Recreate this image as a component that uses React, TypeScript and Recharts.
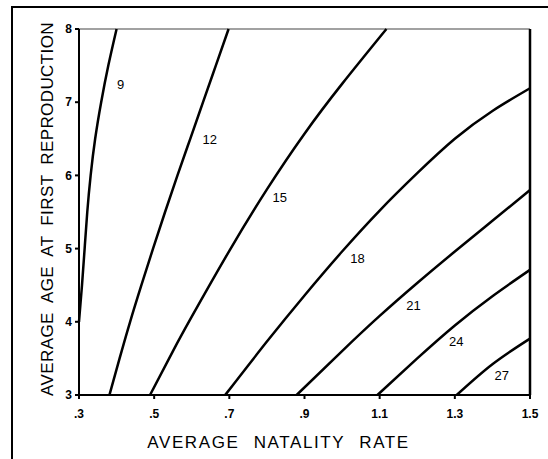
import React from 'react';
import {
  ComposedChart,
  Line,
  XAxis,
  YAxis,
  ReferenceLine,
  ReferenceDot,
} from 'recharts';

// contour lines: [natality rate, age at first reproduction]
const curve9 = [[0.3, 4.0], [0.308, 4.5], [0.315, 5.0], [0.322, 5.5], [0.331, 6.0], [0.343, 6.5], [0.359, 7.0], [0.378, 7.5], [0.4, 8.0]];
const curve12 = [[0.381, 3.0], [0.408, 3.5], [0.436, 4.0], [0.466, 4.5], [0.497, 5.0], [0.529, 5.5], [0.562, 6.0], [0.596, 6.5], [0.63, 7.0], [0.664, 7.5], [0.698, 8.0]];
const curve15 = [[0.489, 3.0], [0.55, 3.6], [0.6, 4.07], [0.7, 4.97], [0.8, 5.81], [0.9, 6.57], [1.0, 7.25], [1.118, 8.0]];
const curve18 = [[0.689, 3.0], [0.8, 3.73], [0.9, 4.36], [1.0, 4.96], [1.1, 5.52], [1.2, 6.03], [1.3, 6.5], [1.4, 6.88], [1.5, 7.19]];
const curve21 = [[0.879, 3.0], [1.0, 3.6], [1.1, 4.08], [1.2, 4.53], [1.3, 4.96], [1.4, 5.38], [1.5, 5.8]];
const curve24 = [[1.094, 3.0], [1.2, 3.5], [1.3, 3.95], [1.4, 4.35], [1.5, 4.71]];
const curve27 = [[1.305, 3.0], [1.4, 3.42], [1.5, 3.77]];

const curves = [curve9, curve12, curve15, curve18, curve21, curve24, curve27];
const levelLabels = ['9', '12', '15', '18', '21', '24', '27'];
const labelX = [0.411, 0.648, 0.834, 1.041, 1.19, 1.304, 1.425];
const labelY = [7.24, 6.49, 5.7, 4.87, 4.23, 3.73, 3.27];

const xTicks = [0.3, 0.5, 0.7, 0.9, 1.1, 1.3, 1.5];
const yTicks = [3, 4, 5, 6, 7, 8];

const font = '"Liberation Sans", Arial, sans-serif';

const fmtX = (v: number) => (v < 1 ? v.toFixed(1).slice(1) : v.toFixed(1));

const App = () => (
  <div style={{ position: 'absolute', left: 0, top: 0, width: 548, height: 459, background: '#fff' }}>
    <div
      style={{
        position: 'absolute',
        left: 11,
        top: 6,
        width: 537,
        height: 453,
        borderTop: '2px solid #000',
        borderLeft: '2px solid #000',
        boxSizing: 'border-box',
      }}
    />
    <div style={{ position: 'absolute', left: 0, top: 0 }}>
      <ComposedChart width={548} height={459} margin={{ top: 29, right: 18, left: 0, bottom: 0 }}>
        <XAxis
          type="number"
          dataKey="x"
          domain={[0.3, 1.5]}
          ticks={xTicks}
          tickFormatter={fmtX}
          height={64}
          stroke="#000"
          strokeWidth={2}
          tickSize={4}
          tickMargin={10}
          tick={{ fill: '#000', fontSize: 12, fontWeight: 'bold', fontFamily: font }}
          label={{
            value: 'AVERAGE NATALITY RATE',
            position: 'center',
            dx: -26,
            dy: 15,
            fill: '#000',
            fontSize: 17,
            fontFamily: font,
            style: { letterSpacing: 1.6, wordSpacing: 8 },
          }}
        />
        <YAxis
          type="number"
          dataKey="y"
          domain={[3, 8]}
          ticks={yTicks}
          width={79}
          stroke="#000"
          strokeWidth={2}
          tickSize={4}
          tickMargin={3}
          tick={{ fill: '#000', fontSize: 12, fontWeight: 'bold', fontFamily: font }}
          label={{
            value: 'AVERAGE AGE AT FIRST REPRODUCTION',
            angle: -90,
            position: 'center',
            dx: 7,
            dy: -3,
            fill: '#000',
            fontSize: 17,
            fontFamily: font,
            style: { letterSpacing: 0.4, wordSpacing: 5 },
          }}
        />
        <ReferenceLine y={8} stroke="#444" strokeWidth={1.2} />
        <ReferenceLine x={1.5} stroke="#000" strokeWidth={2.5} />
        {curves.map((c, i) => (
          <Line
            key={levelLabels[i]}
            data={c.map(([x, y]) => ({ x, y }))}
            dataKey="y"
            type="natural"
            stroke="#000"
            strokeWidth={2.5}
            dot={false}
            activeDot={false}
            isAnimationActive={false}
          />
        ))}
        {levelLabels.map((t, i) => (
          <ReferenceDot
            key={'l' + t}
            x={labelX[i]}
            y={labelY[i]}
            r={0}
            stroke="none"
            fill="none"
            label={{ value: t, position: 'center', fill: '#000', fontSize: 13, fontFamily: font }}
          />
        ))}
      </ComposedChart>
    </div>
  </div>
);

export default App;
